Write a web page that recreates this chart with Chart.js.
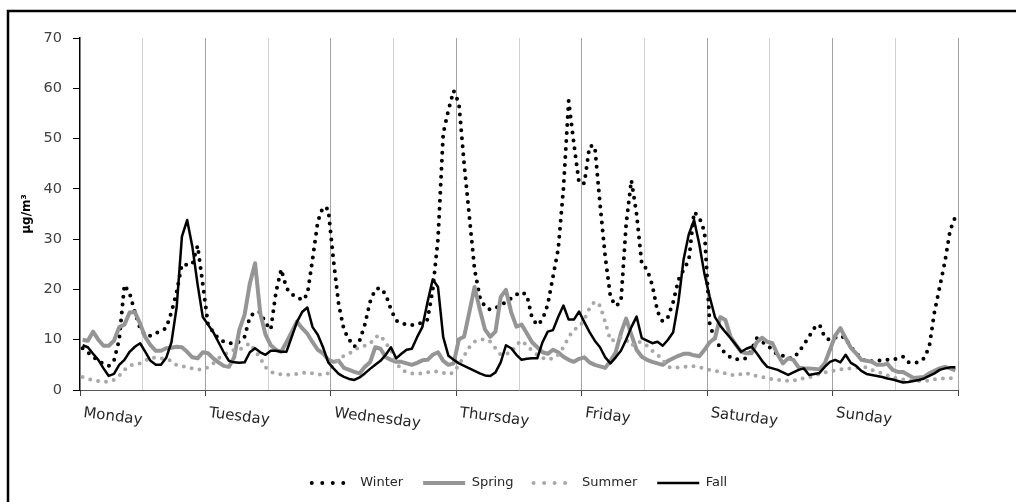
<!DOCTYPE html>
<html>
<head>
<meta charset="utf-8">
<script src="https://cdn.jsdelivr.net/npm/chart.js@4.4.1/dist/chart.umd.min.js"></script>
<style>
  html, body { margin: 0; padding: 0; background: #ffffff; }
  #wrap { width: 1016px; height: 502px; }
</style>
</head>
<body>
<div id="wrap"><canvas id="c" width="1016" height="502"></canvas></div>
<script>
// Weekday labels (one every 24 hourly steps)
const days = ['Monday', 'Tuesday', 'Wednesday', 'Thursday', 'Friday', 'Saturday', 'Sunday'];
const hoursPerDay = 24;
const yMax = 70;
const yStep = 10;
const yTitle = 'µg/m³';
const seriesNames = ['Winter', 'Spring', 'Summer', 'Fall'];

// Hourly mean concentration over one week, by season
const winter = [
  8.3, 7.5, 6.6, 5.8, 5.2, 4.8, 5.8, 10.0, 20.9, 19.2,
  15.5, 12.3, 10.8, 10.8, 11.3, 11.8, 12.3, 15.5, 19.5, 25.0,
  24.9, 25.0, 28.7, 21.0, 13.0, 11.5, 10.2, 9.6, 9.3, 9.3,
  9.6, 10.6, 14.5, 15.5, 15.5, 13.3, 12.0, 19.5, 24.0, 20.3,
  19.0, 18.6, 17.8, 19.0, 26.0, 33.5, 36.4, 36.0, 25.8, 17.0,
  12.0, 10.0, 8.6, 9.8, 13.0, 17.5, 20.0, 20.3, 19.0, 16.0,
  13.8, 13.3, 13.0, 12.9, 13.1, 13.4, 14.0, 20.0, 30.0, 51.0,
  55.7, 59.5, 57.0, 45.0, 34.5, 24.0, 18.5, 16.5, 16.0, 16.3,
  16.9, 17.5, 18.2, 19.0, 19.5, 18.9, 14.3, 12.9, 14.0, 17.0,
  22.5, 28.0, 40.0, 57.5, 49.0, 41.1, 41.1, 48.5, 48.5, 37.0,
  26.5, 18.5, 16.7, 17.5, 33.0, 41.7, 35.0, 25.0, 24.0, 20.9,
  15.6, 13.6, 14.5, 17.5, 21.9, 23.9, 25.8, 35.4, 34.3, 31.5,
  13.0, 10.0, 8.5, 7.2, 6.5, 6.1, 6.1, 6.3, 8.0, 10.3,
  9.6, 8.9, 8.0, 7.0, 6.8, 6.3, 6.3, 7.5, 9.0, 10.6,
  12.3, 13.0, 10.5, 9.9, 10.4, 10.8, 10.3, 8.5, 7.4, 6.3,
  5.6, 5.7, 5.8, 5.9, 6.0, 6.1, 6.2, 6.6, 5.5, 5.4,
  5.5, 6.3, 8.6, 15.5, 20.5, 25.5, 31.8, 34.5
];

const spring = [
  10.0, 9.8, 11.6, 10.0, 8.8, 8.8, 9.8, 12.5, 13.0, 15.4,
  15.5, 13.2, 10.5, 8.9, 7.8, 7.8, 8.3, 8.4, 8.6, 8.5,
  7.6, 6.5, 6.3, 7.5, 7.3, 6.3, 5.5, 4.8, 4.6, 6.5,
  12.0, 15.0, 21.2, 25.2, 15.2, 11.0, 8.9, 8.0, 7.6, 9.5,
  11.5, 13.6, 12.3, 11.2, 9.5, 8.0, 7.3, 6.0, 5.6, 5.8,
  4.4, 4.0, 3.6, 3.3, 4.6, 5.5, 8.5, 8.2, 6.5, 6.0,
  5.6, 5.6, 5.3, 5.0, 5.4, 5.9, 6.0, 7.0, 7.5, 5.8,
  5.0, 5.3, 10.1, 10.6, 15.5, 20.5, 16.0, 12.0, 10.6, 11.6,
  18.5, 19.9, 15.5, 12.6, 13.0, 11.3, 9.5, 8.5, 7.5, 7.2,
  8.0, 7.5, 6.6, 6.0, 5.6, 6.2, 6.5, 5.5, 5.0, 4.7,
  4.4, 5.8, 7.5, 11.3, 14.2, 11.0, 8.0, 6.6, 6.0, 5.6,
  5.3, 5.0, 5.8, 6.3, 6.8, 7.2, 7.2, 6.9, 6.7, 8.0,
  9.5, 10.3, 14.5, 13.9, 10.5, 9.0, 7.6, 7.3, 7.3, 9.5,
  10.4, 9.6, 9.3, 7.0, 5.3, 6.3, 6.0, 4.5, 4.3, 4.3,
  4.2, 4.1, 5.3, 8.0, 10.8, 12.3, 10.3, 8.4, 7.3, 6.0,
  5.8, 5.6, 5.0, 5.0, 5.2, 4.0, 3.6, 3.6, 3.0, 2.4,
  2.5, 2.6, 3.3, 3.8, 4.3, 4.6, 4.3, 3.9
];

const summer = [
  2.6, 2.2, 2.0, 1.8, 1.7, 1.6, 2.0, 2.8, 4.0, 4.9,
  5.1, 5.3, 5.8, 6.5, 6.4, 6.3, 6.1, 5.8, 4.9, 4.7,
  4.6, 4.3, 4.1, 4.0, 4.5, 5.3, 6.3, 7.0, 7.5, 8.0,
  8.0, 8.6, 9.3, 7.8, 6.3, 4.5, 3.6, 3.3, 3.1, 3.0,
  3.1, 3.2, 3.4, 3.5, 3.3, 3.1, 3.0, 3.3, 5.0, 6.3,
  6.8, 7.2, 8.0, 8.5, 8.8, 9.2, 10.5, 10.9, 9.3, 8.0,
  5.5, 4.0, 3.6, 3.3, 3.3, 3.3, 3.5, 3.6, 3.7, 3.4,
  3.1, 3.5, 5.0, 6.8, 8.5, 9.6, 10.0, 10.1, 9.6, 8.3,
  7.0, 7.2, 7.4, 9.0, 9.8, 8.9, 7.8, 7.0, 6.4, 6.0,
  6.3, 7.0, 8.5, 10.5, 12.0, 12.5, 14.0, 16.3, 17.6, 16.8,
  13.5, 9.8, 10.0, 10.5, 10.0, 8.8, 9.6, 9.5, 8.8, 7.8,
  7.0, 6.0, 4.6, 4.4, 4.5, 4.6, 4.7, 4.7, 4.5, 4.3,
  4.0, 3.8, 3.6, 3.3, 3.0, 2.9, 3.2, 3.4, 2.9, 2.8,
  2.6, 2.4, 2.1, 2.0, 2.0, 1.8, 1.8, 2.2, 2.3, 2.5,
  2.8, 3.2, 3.5, 3.7, 3.9, 4.1, 4.2, 4.3, 4.4, 4.5,
  4.5, 4.0, 3.6, 3.3, 2.9, 2.5, 2.3, 2.1, 2.0, 1.9,
  1.8, 1.7, 1.9, 2.1, 2.3, 2.3, 2.3, 2.4
];

const fall = [
  8.9, 8.5, 7.2, 6.0, 4.3, 2.8, 3.2, 5.0, 6.0, 7.6,
  8.6, 9.3, 7.6, 5.8, 5.0, 5.0, 6.4, 9.5, 16.5, 30.5,
  33.8, 28.5, 21.0, 14.5, 13.0, 11.5, 9.5, 7.5, 5.8, 5.5,
  5.4, 5.5, 7.5, 8.3, 7.5, 7.0, 7.8, 7.8, 7.6, 7.6,
  10.5, 13.5, 15.5, 16.4, 12.5, 11.0, 8.5, 5.5, 4.3, 3.2,
  2.6, 2.2, 2.0, 2.5, 3.3, 4.2, 5.0, 5.8, 7.0, 8.5,
  6.3, 7.2, 8.0, 8.2, 10.5, 12.5, 17.5, 22.0, 20.5, 10.5,
  6.8, 6.0, 5.3, 4.8, 4.3, 3.8, 3.3, 2.9, 2.8, 3.5,
  5.5, 8.9, 8.3, 7.0, 6.0, 6.2, 6.3, 6.3, 9.5, 11.6,
  11.9, 14.5, 16.8, 14.0, 14.0, 15.6, 13.5, 11.5, 9.8, 8.5,
  6.5, 5.3, 6.5, 7.8, 10.0, 12.5, 14.6, 10.3, 9.8, 9.3,
  9.6, 8.8, 10.0, 11.5, 17.5, 26.0, 31.0, 33.8, 29.0, 23.0,
  18.5, 14.5, 12.8, 11.5, 10.3, 9.0, 7.6, 8.2, 8.6, 7.3,
  5.8, 4.6, 4.3, 4.0, 3.5, 3.0, 3.5, 4.0, 4.3, 3.0,
  3.2, 3.4, 4.6, 5.6, 6.0, 5.5, 7.0, 5.4, 4.8, 3.8,
  3.2, 3.0, 2.8, 2.6, 2.3, 2.1, 1.8, 1.5, 1.6, 1.8,
  2.0, 2.3, 2.8, 3.3, 4.0, 4.3, 4.5, 4.5
];

// each hourly value sits in the middle of its hour slot
const toPoints = (arr) => arr.map((v, i) => ({ x: i + 0.5, y: v }));

const FONT = '"DejaVu Sans", "Liberation Sans", sans-serif';

// frame around the figure, slanted weekday labels, legend placement
const decorations = {
  id: 'decorations',
  afterLayout(chart) {
    const lg = chart.legend;
    if (lg) {
      const shift = 519.5 - (lg.left + lg.right) / 2;
      lg.left += shift;
      lg.right += shift;
    }
  },
  afterDraw(chart) {
    const ctx = chart.ctx;
    const xs = chart.scales.x;
    ctx.save();
    ctx.strokeStyle = '#000000';
    ctx.lineWidth = 2.5;
    ctx.setLineDash([]);
    ctx.beginPath();
    ctx.moveTo(8, 502);
    ctx.lineTo(8, 11);
    ctx.lineTo(1016, 11);
    ctx.stroke();

    ctx.font = '15px ' + FONT;
    ctx.fillStyle = '#262626';
    ctx.textAlign = 'left';
    ctx.textBaseline = 'alphabetic';
    days.forEach((d, k) => {
      const x = xs.getPixelForValue(k * hoursPerDay);
      ctx.save();
      ctx.translate(x + 3, 417);
      ctx.rotate(7 * Math.PI / 180);
      ctx.fillText(d, 0, 0);
      ctx.restore();
    });
    ctx.restore();
  }
};

const dotted = { borderDash: [0, 8], borderCapStyle: 'round' };

new Chart(document.getElementById('c'), {
  type: 'line',
  data: {
    datasets: [
      Object.assign({ label: seriesNames[0], data: toPoints(winter), borderColor: '#000000', borderWidth: 4, order: 4 }, dotted),
      { label: seriesNames[1], data: toPoints(spring), borderColor: '#959595', borderWidth: 4, order: 3, borderJoinStyle: 'round' },
      Object.assign({ label: seriesNames[2], data: toPoints(summer), borderColor: '#a8a8a8', borderWidth: 4, order: 2 }, dotted),
      { label: seriesNames[3], data: toPoints(fall), borderColor: '#000000', borderWidth: 2.5, order: 1, borderJoinStyle: 'round' }
    ]
  },
  options: {
    responsive: false,
    animation: false,
    devicePixelRatio: 1,
    layout: { padding: { left: 10, top: 38, right: 58, bottom: 2.5 } },
    elements: {
      point: { radius: 0, hoverRadius: 0 },
      line: { tension: 0, fill: false }
    },
    scales: {
      x: {
        type: 'linear',
        position: 'bottom',
        min: 0,
        max: days.length * hoursPerDay,
        afterFit: (s) => { s.height = 66.5; },
        ticks: { display: false, stepSize: hoursPerDay / 2 },
        grid: {
          display: true,
          drawTicks: true,
          tickLength: 6,
          lineWidth: 1,
          color: (c) => (c.tick.value === 0 ? 'rgba(0,0,0,0)' :
            (c.tick.value % hoursPerDay === 0 ? '#a3a3a3' : '#d2d2d2')),
          tickColor: (c) => (c.tick.value % hoursPerDay === 0 ? '#404040' : 'rgba(0,0,0,0)')
        },
        border: { display: true, color: '#555555', width: 1 }
      },
      y: {
        min: 0,
        max: yMax,
        afterFit: (s) => { s.width = 70; },
        ticks: {
          stepSize: yStep,
          padding: 11,
          color: '#404040',
          font: { family: FONT, size: 14.5 }
        },
        grid: { drawOnChartArea: false, drawTicks: true, tickLength: 7, tickColor: '#000000' },
        border: { display: true, color: '#000000', width: 1.5 },
        title: {
          display: true,
          text: yTitle,
          color: '#000000',
          font: { family: FONT, size: 12, weight: 'bold' },
          padding: { top: 10, bottom: 0 }
        }
      }
    },
    plugins: {
      tooltip: { enabled: false },
      legend: {
        display: true,
        position: 'bottom',
        labels: {
          usePointStyle: true,
          pointStyle: 'line',
          pointStyleWidth: 42,
          padding: 20,
          color: '#262626',
          font: { family: FONT, size: 13 },
          sort: (a, b) => a.datasetIndex - b.datasetIndex,
          generateLabels: (chart) => {
            const items = Chart.defaults.plugins.legend.labels.generateLabels(chart);
            items.forEach((it) => {
              const ds = chart.data.datasets[it.datasetIndex];
              const isDotted = Array.isArray(ds.borderDash) && ds.borderDash.length > 0;
              it.strokeStyle = ds.borderColor;
              it.fillStyle = ds.borderColor;
              it.lineWidth = ds.borderWidth;
              it.lineCap = isDotted ? 'round' : 'butt';
              it.lineDash = isDotted ? [0, 10.5] : [];
              it.pointStyle = 'line';
            });
            return items;
          }
        }
      }
    }
  },
  plugins: [decorations]
});
</script>
</body>
</html>
